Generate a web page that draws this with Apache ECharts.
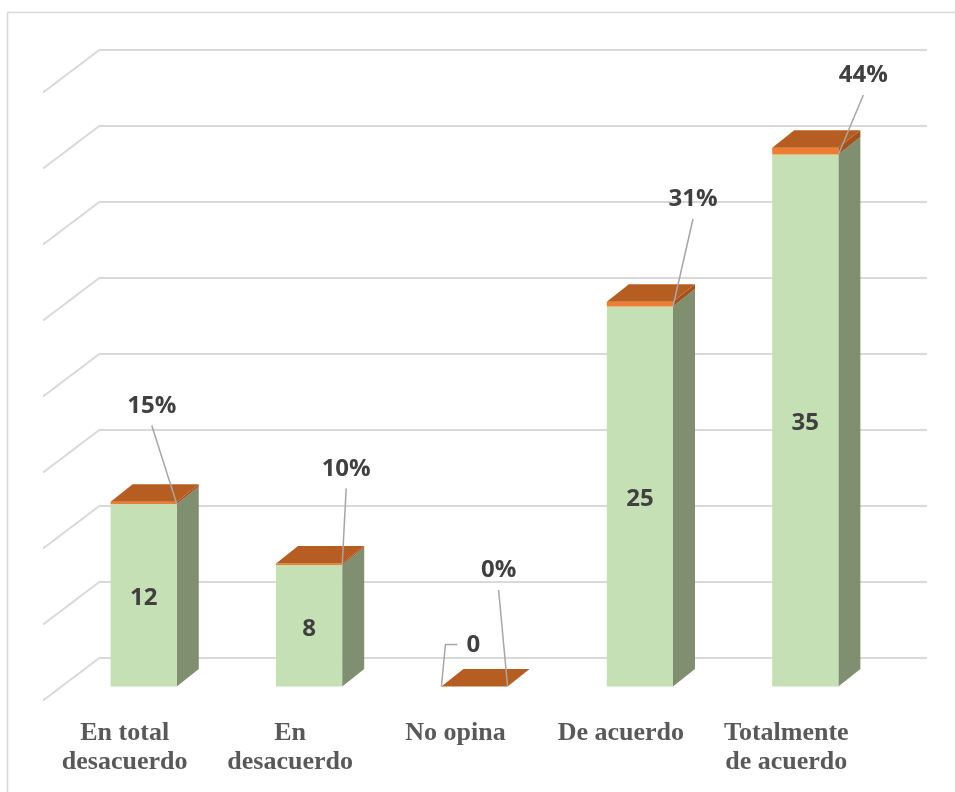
<!DOCTYPE html>
<html><head><meta charset="utf-8">
<script src="https://cdn.jsdelivr.net/npm/echarts@6/dist/echarts.min.js"></script>
<style>html,body{margin:0;padding:0;background:#fff}#c{width:955px;height:792px}</style>
</head><body><div id="c"></div>
<script>
// ---- data ----
const categories = ['En total\ndesacuerdo', 'En\ndesacuerdo', 'No opina', 'De acuerdo', 'Totalmente\nde acuerdo'];
const counts = [12, 8, 0, 25, 35];
const percents = [0.15, 0.10, 0.00, 0.31, 0.44];
const yTicks = [0, 5, 10, 15, 20, 25, 30, 35, 40];

// ---- layout / style constants (pixels) ----
const DEPTH = [22, -17.5];      // bar depth (oblique projection)
const FLOOR = [-57, 43];        // diagonal from back wall to floor front
const pctLabelNudge = [[-25, -99], [4, -97], [-9, -117], [20, -108], [25, -80]];
const LABEL_FONT = 'bold 24px "Open Sans"';
const LABEL_COLOR = '#404040';
const LEADER = '#A6A6A6';

function bar(api, i) {
  const c = api.coord([i, 0]);
  const bw = api.size([1, 0])[0] * 0.4;
  return { xL: c[0] - bw / 2, xR: c[0] + bw / 2, bw: bw, y0: c[1] };
}

function renderCount(params, api) {
  const i = api.value(0), v = api.value(1);
  const b = bar(api, i);
  const y1 = api.coord([i, v])[1];
  const [dx, dy] = DEPTH;
  const ch = [];
  if (b.y0 - y1 > 0.5) {
    ch.push({ type: 'polygon', shape: { points: [[b.xR, y1], [b.xR + dx, y1 + dy], [b.xR + dx, b.y0 + dy], [b.xR, b.y0]] }, style: { fill: '#7F8F70' } });
    ch.push({ type: 'rect', shape: { x: b.xL, y: y1, width: b.bw, height: b.y0 - y1 }, style: { fill: '#C5E0B4' } });
    ch.push({ type: 'text', style: { text: String(v), x: (b.xL + b.xR) / 2, y: (b.y0 + y1) / 2 + 3, align: 'center', verticalAlign: 'middle', font: LABEL_FONT, fill: LABEL_COLOR } });
  } else {
    ch.push({ type: 'polyline', shape: { points: [[b.xL, b.y0], [b.xL + 4, b.y0 - 42], [b.xL + 16, b.y0 - 42]] }, style: { stroke: LEADER, lineWidth: 1.5, fill: null } });
    ch.push({ type: 'text', style: { text: String(v), x: b.xL + 32, y: b.y0 - 41, align: 'center', verticalAlign: 'middle', font: LABEL_FONT, fill: LABEL_COLOR } });
  }
  return { type: 'group', children: ch };
}

function renderPct(params, api) {
  const i = api.value(0), base = api.value(1), p = api.value(2);
  const b = bar(api, i);
  const y1 = api.coord([i, base])[1];
  const y2 = api.coord([i, base + p])[1];
  const [dx, dy] = DEPTH;
  const ch = [];
  ch.push({ type: 'polygon', shape: { points: [[b.xR, y2], [b.xR + dx, y2 + dy], [b.xR + dx, y1 + dy], [b.xR, y1]] }, style: { fill: '#A3521C' } });
  if (y1 - y2 > 0.1) {
    ch.push({ type: 'rect', shape: { x: b.xL, y: y2, width: b.bw, height: y1 - y2 }, style: { fill: '#ED7D31' } });
  }
  ch.push({ type: 'polygon', shape: { points: [[b.xL, y2], [b.xL + dx, y2 + dy], [b.xR + dx, y2 + dy], [b.xR, y2]] }, style: { fill: '#B65E22' } });
  const n = pctLabelNudge[i];
  const cx = b.xR + n[0], cy = y1 + n[1];
  ch.push({ type: 'line', shape: { x1: cx, y1: cy + 20.5, x2: b.xR, y2: y1 }, style: { stroke: LEADER, lineWidth: 1.5 } });
  ch.push({ type: 'text', style: { text: Math.round(p * 100) + '%', x: cx, y: cy + 1, align: 'center', verticalAlign: 'middle', font: LABEL_FONT, fill: LABEL_COLOR } });
  return { type: 'group', children: ch };
}

function renderDiag(params, api) {
  const v = api.value(1);
  const c = api.coord([0, v]);
  const xL = c[0] - api.size([1, 0])[0] / 2;
  return { type: 'line', shape: { x1: xL, y1: c[1], x2: xL + FLOOR[0], y2: c[1] + FLOOR[1] }, style: { stroke: '#D9D9D9', lineWidth: 2 } };
}

const chart = echarts.init(document.getElementById('c'), null, { renderer: 'canvas' });
chart.setOption({
  animation: false,
  backgroundColor: '#fff',
  graphic: [{ type: 'rect', silent: true, z: -10, shape: { x: 7.5, y: 12.5, width: 1000, height: 1000 }, style: { fill: null, stroke: '#D9D9D9', lineWidth: 1.5 } }],
  grid: [
    { left: 61, right: 67, top: 78.5, bottom: 105.5 },
    { left: 100, right: 28, top: 49.5, bottom: 134.5 }
  ],
  xAxis: [
    { type: 'category', gridIndex: 0, data: categories, axisLine: { show: false }, axisTick: { show: false },
      axisLabel: { interval: 0, margin: 32, padding: [0, 38, 0, 0], fontFamily: 'Liberation Serif', fontWeight: 'bold', fontSize: 26, lineHeight: 29, color: '#595959' } },
    { type: 'category', gridIndex: 1, data: categories, show: false }
  ],
  yAxis: [
    { type: 'value', gridIndex: 0, min: 0, max: 40, interval: 5, show: false },
    { type: 'value', gridIndex: 1, min: 0, max: 40, interval: 5, axisLabel: { show: false }, axisLine: { show: false }, axisTick: { show: false },
      splitLine: { lineStyle: { color: '#D9D9D9', width: 2 } } }
  ],
  series: [
    { type: 'custom', xAxisIndex: 1, yAxisIndex: 1, renderItem: renderDiag, data: yTicks.map(v => [0, v]), silent: true, z: 1 },
    { type: 'custom', xAxisIndex: 0, yAxisIndex: 0, renderItem: renderCount, data: counts.map((c, i) => [i, c]), z: 3 },
    { type: 'custom', xAxisIndex: 0, yAxisIndex: 0, renderItem: renderPct, data: percents.map((p, i) => [i, counts[i], p]), z: 4 }
  ]
});
</script></body></html>
